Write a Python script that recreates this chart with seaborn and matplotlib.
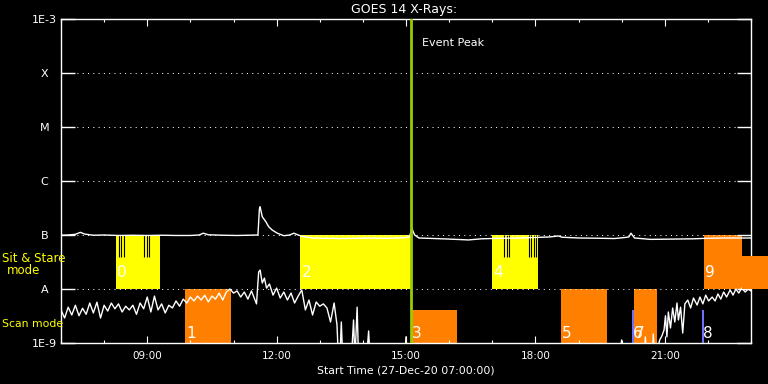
import numpy as np
import pandas as pd
import seaborn as sns
import matplotlib.pyplot as plt
import matplotlib.dates as mdates
from matplotlib.ticker import NullLocator

sns.set_style("ticks")
plt.rcParams['font.family'] = ['DejaVu Sans']

day = "2020-12-27 "
start = pd.Timestamp(day + "07:00")
end = pd.Timestamp(day + "23:00")
event_peak = pd.Timestamp(day + "15:07")

# long channel (1-8 A): minutes after 07:00, flux in 1e-7 W/m^2
long_min = [0, 10, 20, 27, 33, 45, 60, 80, 100, 120, 140, 160, 180, 192, 198, 205, 225, 245, 260, 274,
            276, 277, 280, 285, 289, 294, 301, 310, 318, 324, 330, 336, 350, 370, 390, 410, 430, 450, 470, 480,
            485, 488, 492, 498, 520, 540, 567, 585, 610, 640, 660, 680, 692, 697, 720, 750, 770, 785, 790, 793,
            798, 820, 850, 880, 900, 920, 940, 960]
long_flux = [0.99, 1.00, 1.03, 1.12, 1.04, 0.99, 1.00, 0.98, 0.99, 0.98, 0.99, 0.98, 0.98, 1.00, 1.08, 1.01, 0.99, 0.98, 0.99, 1.00,
             3.00, 3.34, 2.18, 1.76, 1.42, 1.23, 1.08, 0.97, 1.00, 1.08, 1.00, 0.94, 0.88, 0.87, 0.86, 0.87, 0.88, 0.87, 0.88, 0.90,
             0.93, 1.33, 1.00, 0.88, 0.86, 0.84, 0.81, 0.85, 0.87, 0.88, 0.90, 0.92, 0.96, 0.91, 0.88, 0.87, 0.86, 0.90, 0.92, 1.08,
             0.88, 0.83, 0.84, 0.85, 0.87, 0.88, 0.88, 0.88]

# short channel (0.5-4 A): minutes after 07:00, flux in 1e-9 W/m^2 (below 1 = off the plot)
short_min = [0, 5, 10, 15, 20, 25, 30, 35, 40, 45, 50, 55, 60, 65, 70, 75, 80, 85, 90, 95,
             100, 105, 110, 115, 120, 125, 130, 135, 140, 145, 150, 155, 160, 165, 170, 175, 180, 185, 190, 195,
             200, 205, 210, 215, 220, 225, 230, 235, 240, 245, 250, 255, 260, 265, 270,
             272, 275, 277, 280, 283, 286, 290,
             295, 300, 305, 310, 315, 320, 325, 330, 335, 340, 345, 350, 355, 360, 365, 370, 375, 380,
             384, 386, 388, 390, 392, 398, 404, 407, 409, 412, 414, 420, 425, 428, 430, 440, 460, 478, 480, 482,
             600, 700, 777, 780, 781, 812, 813, 815, 823, 824, 826,
             833, 836, 839, 841, 843, 845, 848, 851, 854, 857, 859, 862, 865, 868, 872, 876, 880, 885, 889, 893,
             897, 901, 906, 910, 914, 918, 922, 926, 931, 935, 939, 943, 947, 952, 956, 960]
short_flux = [4.1, 2.9, 4.6, 3.3, 5.0, 3.2, 4.4, 3.4, 5.5, 3.6, 5.7, 2.9, 5.0, 3.9, 5.5, 4.3, 5.3, 3.75, 4.8, 4.1,
              5.0, 3.4, 5.5, 4.3, 7.1, 3.75, 7.4, 4.1, 5.3, 3.6, 5.0, 4.45, 6.0, 4.8, 6.5, 5.5, 7.1, 6.0, 7.4, 6.25,
              7.7, 5.75, 7.4, 6.5, 8.4, 6.25, 8.8, 10.0, 8.4, 9.2, 7.1, 8.8, 6.5, 9.2, 6.25,
              5.3, 20.6, 22.4, 12.9, 15.9, 10.4, 12.4,
              7.7, 10.4, 6.8, 8.8, 6.25, 8.4, 5.5, 7.4, 9.6, 4.1, 6.25, 3.3, 5.75, 4.8, 5.3, 4.45, 2.45, 5.5,
              2.15, 0.5, 0.5, 2.45, 0.5, 0.5, 0.5, 2.67, 0.5, 4.6, 0.5, 0.5, 0.5, 1.67, 0.5, 0.5, 0.5, 0.5, 1.3, 0.5,
              0.5, 0.5, 0.5, 1.14, 0.5, 0.5, 1.3, 0.5, 0.5, 1.47, 0.5,
              1.14, 1.35, 1.74, 3.2, 1.3, 3.75, 1.9, 4.45, 2.45, 5.5, 2.67, 4.6, 1.53, 5.3, 6.25, 4.45, 6.8, 5.05, 7.1, 5.3,
              7.7, 6.0, 7.1, 6.0, 8.1, 6.5, 8.8, 7.1, 9.6, 7.7, 10.0, 8.4, 10.4, 8.8, 10.0, 9.2]

# observing mode boxes
mode_label = ["0", "1", "2", "3", "4", "5", "6", "7", "8", "9"]
mode_start = ["08:17", "09:53", "12:33", "15:07", "17:00", "18:36", "20:14", "20:17", "21:52", "21:54"]
mode_end = ["09:18", "10:56", "15:09", "16:11", "18:03", "19:39", "20:17", "20:49", "21:55", "22:47"]
mode_low = [1e-8, 1e-9, 1e-8, 1e-9, 1e-8, 1e-9, 1e-9, 1e-9, 1e-9, 1e-8]
mode_high = [1e-7, 1e-8, 1e-7, 4.1e-9, 1e-7, 1e-8, 4.1e-9, 1e-8, 4.1e-9, 1e-7]
mode_color = ["#ffff00", "#ff8000", "#ffff00", "#ff8000", "#ffff00", "#ff8000", "#7070ff", "#ff8000", "#7070ff", "#ff8000"]
# tail of box 9 running past the frame
tail_start, tail_end, tail_low, tail_high = "22:47", "23:26", 1e-8, 4.1e-8
# dark ticks inside the sit & stare boxes
stare_marks = ["08:20", "08:23", "08:27", "08:55", "08:59", "09:02",
               "17:16", "17:20", "17:23", "17:51", "17:54", "17:58", "18:01"]

level_vals = [1e-9, 1e-8, 1e-7, 1e-6, 1e-5, 1e-4, 1e-3]
level_text = ["1E-9", "A", "B", "C", "M", "X", "1E-3"]

fig = plt.figure(figsize=(7.68, 3.84), dpi=100, facecolor='black')
ax = fig.add_axes([61 / 768, 41 / 384, 690 / 768, 324 / 384])
ax.set_facecolor('black')

long_df = pd.DataFrame({'time': start + pd.to_timedelta(long_min, unit='m'),
                        'flux': np.array(long_flux) * 1e-7})
short_df = pd.DataFrame({'time': start + pd.to_timedelta(short_min, unit='m'),
                         'flux': np.array(short_flux) * 1e-9})
sns.lineplot(data=long_df, x='time', y='flux', color='white', lw=1, ax=ax,
             estimator=None, sort=False, zorder=3)
sns.lineplot(data=short_df, x='time', y='flux', color='white', lw=1, ax=ax,
             estimator=None, sort=False, zorder=3)

t0 = mdates.date2num(pd.to_datetime([day + s for s in mode_start]))
t1 = mdates.date2num(pd.to_datetime([day + s for s in mode_end]))
low = np.array(mode_low)
high = np.array(mode_high)
ax.bar(t0, high - low, width=t1 - t0, bottom=low, align='edge',
       color=mode_color, linewidth=0, zorder=1)
a0 = mdates.date2num(pd.Timestamp(day + tail_start))
a1 = mdates.date2num(pd.Timestamp(day + tail_end))
ax.bar([a0], [tail_high - tail_low], width=a1 - a0, bottom=tail_low, align='edge',
       color="#ff8000", linewidth=0, zorder=3, clip_on=False)

marks = mdates.date2num(pd.to_datetime([day + s for s in stare_marks]))
ax.vlines(marks, 3.9e-8, 1e-7, color='black', lw=0.8, zorder=1.5)

offset = 1.5 / (24 * 60)
for x, lo, lab in zip(t0, low, mode_label):
    y = 2.06e-8 if lo > 5e-9 else 1.53e-9
    ax.text(x + offset, y, lab, color='white', fontsize=11, ha='left', va='center', zorder=5)

ax.axvline(event_peak, color='#99cc00', lw=2, zorder=4)
ax.text(event_peak + pd.Timedelta(minutes=15), 3.6e-4, "Event Peak",
        color='white', fontsize=8, va='center', ha='left')

ax.set_yscale('log')
ax.set_ylim(1e-9, 1e-3)
ax.set_xlim(start, end)
ax.set_yticks(level_vals)
ax.set_yticklabels(level_text)
ax.yaxis.set_minor_locator(NullLocator())
for lab in ax.get_yticklabels():
    lab.set_horizontalalignment('center')

ax.xaxis.set_major_locator(mdates.HourLocator(byhour=[9, 12, 15, 18, 21]))
ax.xaxis.set_minor_locator(mdates.HourLocator())
ax.xaxis.set_major_formatter(mdates.DateFormatter('%H:%M'))

ax.tick_params(axis='x', which='major', direction='in', length=4.8, width=0.8,
               top=True, color='white', labelcolor='white', labelsize=7.5, pad=6)
ax.tick_params(axis='x', which='minor', direction='in', length=2.4, width=0.8,
               top=True, color='white')
ax.tick_params(axis='y', which='major', direction='in', length=10, width=1,
               right=True, color='white', labelcolor='white', labelsize=8, pad=12)

ax.set_axisbelow(False)
ax.grid(axis='y', which='major', color='white', linestyle=(0, (1, 4.3)), linewidth=0.72)
ax.grid(axis='x', visible=False)
for sp in ax.spines.values():
    sp.set_color('white')
    sp.set_linewidth(1)

ax.set_ylabel("")
ax.set_xlabel("Start Time (27-Dec-20 07:00:00)", color='white', fontsize=7.8, labelpad=3)
fig.text(404 / 768, 1 - 10 / 384, "GOES 14 X-Rays:", color='white', fontsize=9,
         ha='center', va='center')

fig.text(2 / 768, 1 - 259 / 384, "Sit & Stare", color='#ffff00', fontsize=8.5, ha='left', va='center')
fig.text(24 / 768, 1 - 271 / 384, "mode", color='#ffff00', fontsize=8.5, ha='center', va='center')
fig.text(2 / 768, 1 - 324 / 384, "Scan mode", color='#ffff00', fontsize=7.8, ha='left', va='center')

fig.savefig('out.png', dpi=100, facecolor='black')
